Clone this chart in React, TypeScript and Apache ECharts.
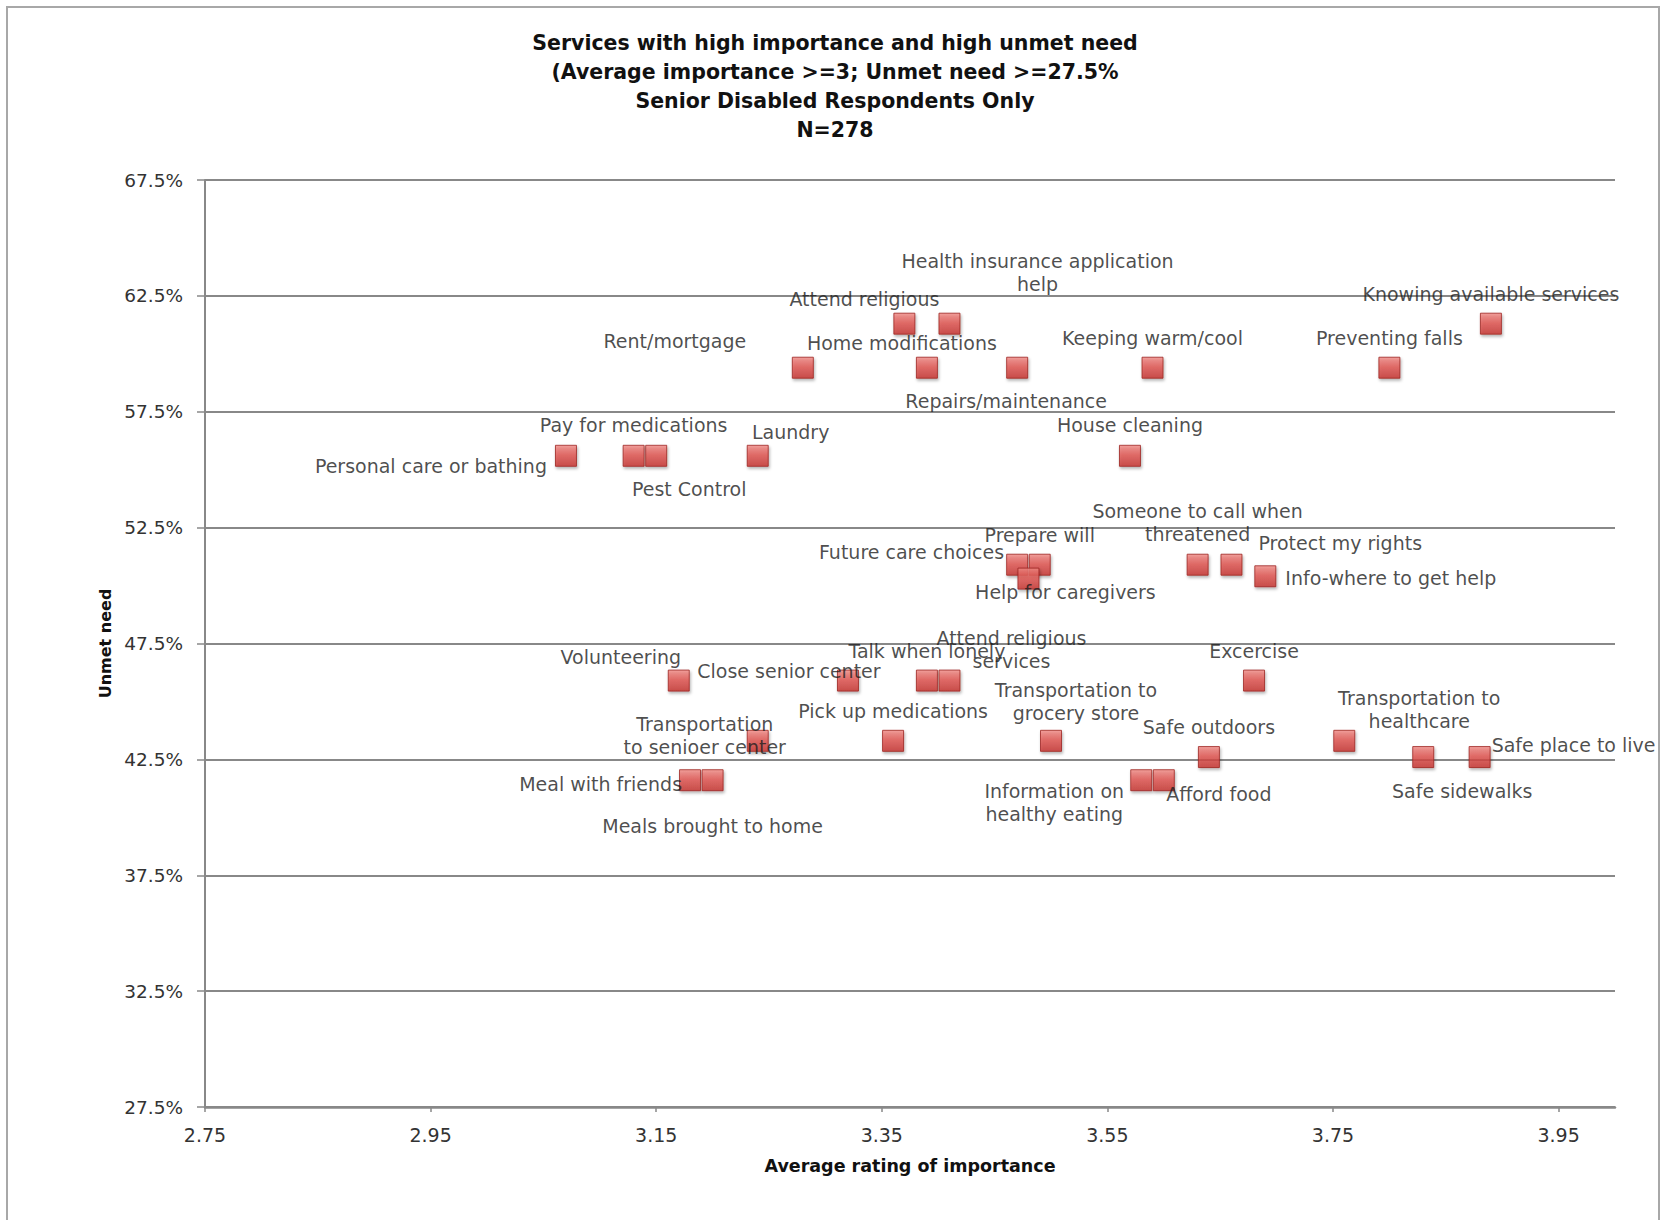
import React, { useEffect, useRef } from "react";
import * as echarts from "echarts";

// Survey services (multi-line labels carry "\n")
const services = [
  "Personal care or bathing",
  "Pay for medications",
  "Pest Control",
  "Laundry",
  "House cleaning",
  "Rent/mortgage",
  "Home modifications",
  "Repairs/maintenance",
  "Keeping warm/cool",
  "Preventing falls",
  "Attend religious",
  "Health insurance application\nhelp",
  "Knowing available services",
  "Future care choices",
  "Prepare will",
  "Help for caregivers",
  "Someone to call when\nthreatened",
  "Protect my rights",
  "Info-where to get help",
  "Volunteering",
  "Close senior center",
  "Talk when lonely",
  "Attend religious\nservices",
  "Excercise",
  "Transportation\nto senioer center",
  "Pick up medications",
  "Transportation to\ngrocery store",
  "Transportation to\nhealthcare",
  "Safe outdoors",
  "Safe sidewalks",
  "Safe place to live",
  "Meal with friends",
  "Meals brought to home",
  "Information on\nhealthy eating",
  "Afford food",
];

// Average rating of importance
const importance = [
  3.07, 3.13, 3.15, 3.24, 3.57,
  3.28, 3.39, 3.47, 3.59, 3.8,
  3.37, 3.41, 3.89,
  3.47, 3.49, 3.48, 3.63, 3.66, 3.69,
  3.17, 3.32, 3.39, 3.41, 3.68,
  3.24, 3.36, 3.5, 3.76,
  3.64, 3.83, 3.88,
  3.18, 3.2, 3.58, 3.6,
];

// Unmet need, percent
const unmetNeed = [
  55.6, 55.6, 55.6, 55.6, 55.6,
  59.4, 59.4, 59.4, 59.4, 59.4,
  61.3, 61.3, 61.3,
  50.9, 50.9, 50.3, 50.9, 50.9, 50.4,
  45.9, 45.9, 45.9, 45.9, 45.9,
  43.3, 43.3, 43.3, 43.3,
  42.6, 42.6, 42.6,
  41.6, 41.6, 41.6, 41.6,
];

const xTickValues = [2.75, 2.95, 3.15, 3.35, 3.55, 3.75, 3.95];

const titleLines = [
  "Services with high importance and high unmet need",
  "(Average importance >=3; Unmet need >=27.5%",
  "Senior Disabled Respondents Only",
  "N=278",
];

// Label placement around each marker: [dx, dy, text alignment]
const labelPlacement: [number, number, string][] = [
  [-19, 10, "right"],
  [0, -31, "center"],
  [33, 33, "center"],
  [33, -24, "center"],
  [0, -31, "center"],
  [-128, -27, "center"],
  [-25, -25, "center"],
  [-11, 33, "center"],
  [0, -30, "center"],
  [0, -30, "center"],
  [-40, -25, "center"],
  [88, -51, "center"],
  [0, -30, "center"],
  [-13, -13, "right"],
  [0, -30, "center"],
  [37, 13, "center"],
  [0, -42, "center"],
  [27, -22, "left"],
  [20, 2, "left"],
  [-58, -24, "center"],
  [-59, -10, "center"],
  [0, -30, "center"],
  [62, -31, "center"],
  [0, -30, "center"],
  [-53, -5, "center"],
  [0, -30, "center"],
  [25, -39, "center"],
  [75, -31, "center"],
  [0, -30, "center"],
  [39, 34, "center"],
  [12, -12, "left"],
  [-8, 4, "right"],
  [0, 46, "center"],
  [-87, 22, "center"],
  [55, 14, "center"],
];

const FONT = "DejaVu Sans";
const GRID_GRAY = "#888888";

export default function App() {
  const ref = useRef<HTMLDivElement>(null);

  useEffect(() => {
    if (!ref.current) return;
    const chart = echarts.init(ref.current, null, { renderer: "svg" });

    const data = services.map((name, i) => {
      const [dx, dy, align] = labelPlacement[i];
      return {
        name,
        value: [importance[i], unmetNeed[i]],
        label: { offset: [dx, dy], align },
      };
    });

    chart.setOption({
      animation: false,
      backgroundColor: "#ffffff",
      title: {
        text: titleLines.join("\n"),
        left: 830,
        top: 23,
        textAlign: "center",
        textStyle: {
          fontFamily: FONT,
          fontWeight: "bold",
          fontSize: 20.5,
          lineHeight: 29,
          color: "#111",
        },
      },
      graphic: [
        {
          type: "rect",
          silent: true,
          z: -10,
          shape: { x: 7, y: 7, width: 1652, height: 1260 },
          style: { fill: "none", stroke: "#a8a8a8", lineWidth: 2 },
        },
      ],
      grid: {
        left: 205,
        right: 48,
        top: 180,
        bottom: 113,
        containLabel: false,
        outerBoundsMode: "none",
      },
      xAxis: {
        type: "value",
        min: 2.75,
        max: 4.0,
        interval: 0.2,
        name: "Average rating of importance",
        nameLocation: "middle",
        nameGap: 50,
        nameTextStyle: {
          fontFamily: FONT,
          fontWeight: "bold",
          fontSize: 17.5,
          color: "#111",
        },
        axisLine: { show: true, onZero: false, lineStyle: { color: GRID_GRAY, width: 2.5 } },
        axisTick: {
          show: true,
          length: 5,
          customValues: xTickValues,
          lineStyle: { color: GRID_GRAY, width: 1.5 },
        },
        axisLabel: {
          customValues: xTickValues,
          formatter: (v: number) => v.toFixed(2),
          margin: 18,
          fontFamily: FONT,
          fontSize: 19,
          color: "#333",
        },
        splitLine: { show: false },
      },
      yAxis: {
        type: "value",
        min: 27.5,
        max: 67.5,
        interval: 5,
        name: "Unmet need",
        nameLocation: "middle",
        nameGap: 92,
        nameRotate: 90,
        nameTextStyle: {
          fontFamily: FONT,
          fontWeight: "bold",
          fontSize: 16,
          color: "#111",
        },
        axisLine: { show: true, onZero: false, lineStyle: { color: GRID_GRAY, width: 2 } },
        axisTick: { show: true, length: 8, lineStyle: { color: GRID_GRAY, width: 1.5 } },
        axisLabel: {
          formatter: (v: number) => v.toFixed(1) + "%",
          margin: 22,
          fontFamily: FONT,
          fontSize: 18.5,
          color: "#333",
        },
        splitLine: { show: true, lineStyle: { color: GRID_GRAY, width: 2 } },
      },
      series: [
        {
          type: "scatter",
          symbol: "rect",
          symbolSize: 21,
          data,
          itemStyle: {
            color: new echarts.graphic.LinearGradient(0, 0, 0, 1, [
              { offset: 0, color: "#f08a85" },
              { offset: 0.45, color: "#e05450" },
              { offset: 1, color: "#c4302c" },
            ]),
            borderColor: "#9c2421",
            borderWidth: 1,
            shadowBlur: 3,
            shadowColor: "rgba(0,0,0,0.35)",
            shadowOffsetX: 1,
            shadowOffsetY: 2,
          },
          label: {
            show: true,
            position: "inside",
            formatter: "{b}",
            fontFamily: FONT,
            fontSize: 19,
            lineHeight: 23,
            verticalAlign: "middle",
            color: "#1e1e1e",
          },
          emphasis: { disabled: true },
        },
      ],
    });

    return () => chart.dispose();
  }, []);

  return (
    <div
      ref={ref}
      style={{
        position: "absolute",
        left: 0,
        top: 0,
        width: 1663,
        height: 1220,
        background: "#fff",
      }}
    />
  );
}
